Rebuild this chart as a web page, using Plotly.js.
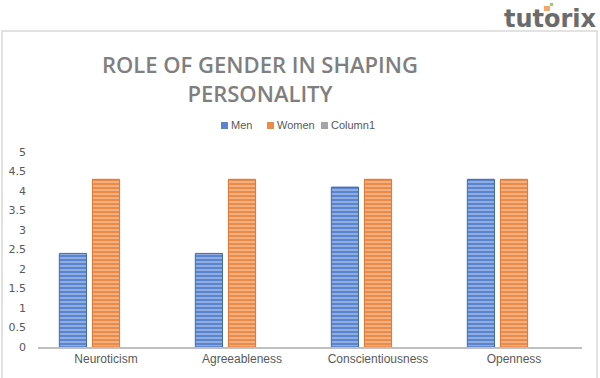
<!DOCTYPE html>
<html>
<head>
<meta charset="utf-8">
<script src="https://cdn.plot.ly/plotly-3.0.1.min.js"></script>
<style>html,body{margin:0;padding:0;background:#fff;}#chart{width:600px;height:378px;}</style>
</head>
<body>
<div id="chart"></div>
<script>
const categories = ["Neuroticism", "Agreeableness", "Conscientiousness", "Openness"];
const men = [2.4, 2.4, 4.1, 4.3];
const women = [4.3, 4.3, 4.3, 4.3];
const column1 = [null, null, null, null];
const seriesNames = ["Men", "Women", "Column1"];
const yTicks = [0, 0.5, 1, 1.5, 2, 2.5, 3, 3.5, 4, 4.5, 5];

const colors = ["#5a84d0", "#ee8a48", "#a5a5a5"];
const traces = [
  {type: "bar", name: seriesNames[0], x: categories, y: men,
   marker: {color: colors[0], line: {color: "#3f67b3", width: 1},
            pattern: {shape: "-", fgcolor: "#a8bfe8", bgcolor: colors[0], size: 4, solidity: 0.35}}},
  {type: "bar", name: seriesNames[1], x: categories, y: women,
   marker: {color: colors[1], line: {color: "#e07530", width: 1},
            pattern: {shape: "-", fgcolor: "#f6c09a", bgcolor: colors[1], size: 4, solidity: 0.35}}},
  {type: "bar", name: seriesNames[2], x: categories, y: column1,
   marker: {color: colors[2]}}
];

// custom legend (compact, like the original)
const legendSquares = [[0.3364, 0.3493], [0.4210, 0.4338], [0.5202, 0.5331]];
const legendTextX = [0.3548, 0.4393, 0.5386];
const shapes = [
  {type: "rect", xref: "paper", yref: "paper", x0: -0.0662, x1: 1.0276, y0: -0.2, y1: 1.6205,
   line: {color: "#d9d9d9", width: 1.5}, fillcolor: "rgba(0,0,0,0)", layer: "below"},
  {type: "rect", xref: "paper", yref: "paper", x0: 0.930, x1: 0.941, y0: 1.723, y1: 1.749,
   line: {width: 0}, fillcolor: "#f0a66c"},
  {type: "rect", xref: "paper", yref: "paper", x0: 0.941, x1: 0.9467, y0: 1.749, y1: 1.764,
   line: {width: 0}, fillcolor: "#9acd5a"}
];
const annotations = [
  {text: "tutorix", xref: "paper", yref: "paper", x: 1.031, xanchor: "right", y: 1.682, yanchor: "middle",
   showarrow: false, font: {family: "DejaVu Sans, sans-serif", size: 24, color: "#6b6b6b", weight: 700}}
];
seriesNames.forEach((n, i) => {
  shapes.push({type: "rect", xref: "paper", yref: "paper", x0: legendSquares[i][0], x1: legendSquares[i][1],
               y0: 1.118, y1: 1.154, line: {width: 0}, fillcolor: colors[i]});
  annotations.push({text: n, xref: "paper", yref: "paper", x: legendTextX[i], xanchor: "left", xshift: -2,
                    y: 1.136, yanchor: "middle", showarrow: false,
                    font: {family: "Liberation Sans, Arial, sans-serif", size: 11, color: "#595959"}});
});

const layout = {
  width: 600, height: 378,
  margin: {l: 38, r: 18, t: 152, b: 31},
  paper_bgcolor: "#ffffff", plot_bgcolor: "#ffffff",
  barmode: "group", bargap: 0.27, bargroupgap: 0.18,
  showlegend: false,
  title: {text: "ROLE OF GENDER IN SHAPING<br>PERSONALITY", xref: "container", x: 0.4333, xanchor: "center",
          yref: "container", y: 0.807, yanchor: "middle",
          font: {family: "Open Sans, sans-serif", size: 22, color: "#7f7f7f", weight: 600}},
  xaxis: {showgrid: false, zeroline: false, showline: true, linecolor: "#c0c0c0", linewidth: 1.5,
          ticks: "", tickfont: {family: "Liberation Sans, Arial, sans-serif", size: 12, color: "#595959"}},
  yaxis: {range: [0, 5], tickvals: yTicks, ticktext: yTicks.map(String), showgrid: false, zeroline: false,
          showline: false, ticks: "", ticklabelstandoff: 11,
          tickfont: {family: "DejaVu Sans, sans-serif", size: 11, color: "#595959"}},
  shapes: shapes,
  annotations: annotations
};

Plotly.newPlot("chart", traces, layout, {displayModeBar: false, staticPlot: true});
</script>
</body>
</html>
